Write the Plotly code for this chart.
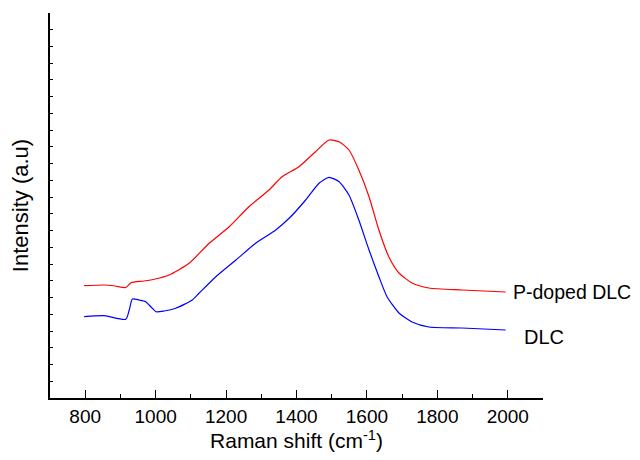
import plotly.graph_objects as go

# Raman shift (cm^-1)
x_pdoped = [797, 854, 885, 915, 930, 967, 999, 1038, 1095, 1152, 1209, 1265, 1322, 1359,
            1407, 1454, 1492, 1521, 1549, 1577, 1606, 1634, 1662, 1691, 1728, 1776, 1870, 1994]
y_pdoped = [112.3, 113, 112, 110.5, 115.3, 117, 119, 123, 134.7, 154.7, 171.3, 191.3, 208, 221.3,
            231.3, 246.3, 258, 256.3, 248, 228, 201.3, 168, 141.3, 125, 115, 110, 108, 106]

x_dlc = [797, 854, 915, 925, 934, 953, 972, 987, 1001, 1024, 1057, 1104, 1123, 1171, 1228, 1284,
         1341, 1379, 1426, 1464, 1492, 1521, 1549, 1577, 1606, 1634, 1657, 1691, 1728, 1776, 1870, 1994]
y_dlc = [81.3, 82.3, 78.7, 88, 99, 98, 96.3, 91, 86.3, 87, 89.7, 98, 104.7, 121.3, 138, 154.7,
         168, 179.7, 198, 214.7, 220.7, 216.3, 203, 178, 148, 121.3, 101.3, 85, 76, 71, 70, 68]

series_labels = ["P-doped DLC", "DLC"]
x_ticks = [800, 1000, 1200, 1400, 1600, 1800, 2000]

fig = go.Figure()
fig.add_trace(go.Scatter(x=x_pdoped, y=y_pdoped, mode="lines", name=series_labels[0],
                         line=dict(color="#ff0000", width=1.2, shape="spline", smoothing=0.6)))
fig.add_trace(go.Scatter(x=x_dlc, y=y_dlc, mode="lines", name=series_labels[1],
                         line=dict(color="#0000ff", width=1.2, shape="spline", smoothing=0.6)))

font_family = "Liberation Sans, Arial, sans-serif"

fig.update_layout(
    width=632, height=452,
    margin=dict(l=42, r=97, t=5, b=62, autoexpand=False),
    paper_bgcolor="white", plot_bgcolor="white",
    showlegend=False,
    font=dict(family=font_family, color="black"),
    xaxis=dict(
        range=[700, 2100], tickvals=x_ticks, ticktext=[str(v) for v in x_ticks],
        ticks="inside", ticklen=8, tickwidth=1.2, tickcolor="black",
        minor=dict(ticks="inside", ticklen=4, tickwidth=1.2, tickcolor="black",
                   tickvals=[700, 900, 1100, 1300, 1500, 1700, 1900, 2100]),
        showline=True, linecolor="black", linewidth=1.5, showgrid=False, zeroline=False,
        automargin=False,
        tickfont=dict(size=19, family=font_family),
        title=dict(text="Raman shift (cm<sup>-1</sup>)", font=dict(size=21, family=font_family), standoff=4),
    ),
    yaxis=dict(
        range=[0, 385], tick0=0, dtick=16.74, showticklabels=False,
        ticks="inside", ticklen=3, tickwidth=1, tickcolor="black",
        showline=True, linecolor="black", linewidth=1.5, showgrid=False, zeroline=False,
        automargin=False,
        title=dict(text="Intensity (a.u)", font=dict(size=22, family=font_family), standoff=16),
    ),
    annotations=[
        dict(text=series_labels[0], xref="paper", yref="paper", x=0.936, y=0.275,
             xanchor="left", yanchor="middle", showarrow=False, font=dict(size=19.5, family=font_family)),
        dict(text=series_labels[1], xref="paper", yref="paper", x=0.957, y=0.159,
             xanchor="left", yanchor="middle", showarrow=False, font=dict(size=20, family=font_family)),
    ],
)

fig.write_html("out.html")
